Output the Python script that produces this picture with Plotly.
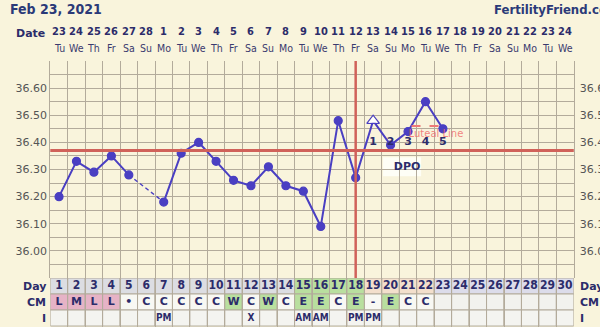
import plotly.graph_objects as go

# ---------------- data ----------------
days = list(range(1, 31))
dates = [23, 24, 25, 26, 27, 28] + list(range(1, 25))
weekdays = ["Tu", "We", "Th", "Fr", "Sa", "Su", "Mo"] * 5
weekdays = weekdays[:30]
temps = [36.20, 36.33, 36.29, 36.35, 36.28, None, 36.18, 36.36, 36.40, 36.33,
         36.26, 36.24, 36.31, 36.24, 36.22, 36.09, 36.48, 36.27, 36.48, 36.39,
         36.44, 36.55, 36.45]
marker_kind = ["o"] * 18 + ["open"] + ["o"] * 4
cm_values = ["L", "M", "L", "L", "•", "C", "C", "C", "C", "C", "W", "C", "W", "C",
             "E", "E", "C", "E", "-", "E", "C", "C"]
intercourse = {7: "PM", 12: "X", 15: "AM", 16: "AM", 18: "PM", 19: "PM"}
coverline = 36.37
ovulation_day = 18
dpo_days = [19, 20, 21, 22, 23]
dpo_labels = ["1", "2", "3", "4", "5"]
luteal_level = 36.46
luteal_span = [21.2, 22.8]
ytick_vals = [36.0, 36.1, 36.2, 36.3, 36.4, 36.5, 36.6]

# ---------------- styles ----------------
W, H = 600, 327
BG = "#f9f4dc"
GRID = "#b3ab9b"
NAVY = "#2c2c6a"
LINE = "#4a3fc2"
RED = "#d0625a"
FONT = "DejaVu Sans"
NFONT = "DejaVu Sans Condensed, Noto Sans, DejaVu Sans"

x0px, x1px = 50.3, 573.8
top_px, bot_px = 61, 278

fig = go.Figure()

fig.add_trace(go.Scatter(
    x=days[:len(temps)], y=temps, mode="lines", connectgaps=False,
    line=dict(color=LINE, width=2), hoverinfo="skip", showlegend=False))
gap_x, gap_y = [], []
for i, t in enumerate(temps):
    if t is None:
        j0, j1 = i - 1, i + 1
        gap_x += [days[j0], days[j1], None]
        gap_y += [temps[j0], temps[j1], None]
fig.add_trace(go.Scatter(x=gap_x, y=gap_y, mode="lines",
                         line=dict(color=LINE, width=1.4, dash="4px,3px"),
                         showlegend=False, hoverinfo="skip"))
mx = [d for d, t in zip(days, temps) if t is not None]
my = [t for t in temps if t is not None]
mk = [k for k, t in zip(marker_kind, temps) if t is not None]
fig.add_trace(go.Scatter(
    x=mx, y=my, mode="markers",
    marker=dict(symbol=["triangle-up-open" if k == "open" else "circle" for k in mk],
                size=[11 if k == "open" else 8 for k in mk],
                color=LINE, opacity=1, line=dict(color=LINE, width=1.2)),
    showlegend=False, hoverinfo="skip"))
fig.add_trace(go.Scatter(
    x=[d for d, k in zip(mx, mk) if k == "open"],
    y=[t for t, k in zip(my, mk) if k == "open"], mode="markers",
    marker=dict(symbol="triangle-up", size=8, color="white"),
    showlegend=False, hoverinfo="skip"))

fig.add_trace(go.Scatter(x=luteal_span, y=[luteal_level, luteal_level], mode="lines",
                         line=dict(color="#ee7a78", width=2, dash="dash"),
                         showlegend=False, hoverinfo="skip"))
fig.add_trace(go.Scatter(x=[22.6], y=[36.43], mode="text", text=["Luteal Line"],
                         textfont=dict(family=FONT, size=10, color="rgba(240,110,110,0.85)"),
                         showlegend=False, hoverinfo="skip"))
fig.add_trace(go.Scatter(x=dpo_days, y=[36.40] * len(dpo_days), mode="text",
                         text=[f"<b>{v}</b>" for v in dpo_labels],
                         textfont=dict(family=FONT, size=11, color=NAVY),
                         showlegend=False, hoverinfo="skip"))
fig.add_trace(go.Scatter(x=[20.95], y=[36.31], mode="text", text=["<b>DPO</b>"],
                         textfont=dict(family=FONT, size=11, color=NAVY),
                         showlegend=False, hoverinfo="skip"))

shapes = []
shapes.append(dict(type="rect", xref="x", yref="y", x0=19.57, x1=21.75, y0=36.275, y1=36.345,
                   fillcolor="rgba(255,255,250,0.85)", line=dict(width=0), layer="below"))
shapes.append(dict(type="line", xref="paper", yref="y", x0=x0px / W, x1=x1px / W,
                   y0=coverline, y1=coverline, line=dict(color=RED, width=3)))
shapes.append(dict(type="line", xref="x", yref="y", x0=ovulation_day, x1=ovulation_day,
                   y0=35.9, y1=36.7, line=dict(color=RED, width=2.5)))

# ---------------- table ----------------
day_colors = []
for d in days:
    if 15 <= d <= 18:
        day_colors.append("#b9df9f")
    elif 19 <= d <= 22:
        day_colors.append("#f3dfcc")
    elif d >= 23:
        day_colors.append("#dcdcea")
    else:
        day_colors.append("#dcdde2")
cm_colors = []
for i, d in enumerate(days):
    v = cm_values[i] if i < len(cm_values) else ""
    if v in ("L", "M"):
        cm_colors.append("#e6b3c6")
    elif v in ("W", "E"):
        cm_colors.append("#b9df9f")
    elif v:
        cm_colors.append("#f8f8f3")
    else:
        cm_colors.append("#f2f2ee")

for i, d in enumerate(days):
    for row, col in enumerate([day_colors[i], cm_colors[i], "#f4f4f0"]):
        shapes.append(dict(type="rect", xref="x", yref="y2", x0=d - 0.5, x1=d + 0.5,
                           y0=row, y1=row + 1, fillcolor=col,
                           line=dict(color=GRID, width=1), layer="below"))

fig.add_trace(go.Scatter(x=days, y=[0.5] * 30, yaxis="y2", mode="text",
                         text=[f"<b>{d}</b>" for d in days],
                         textfont=dict(family=NFONT, size=12, color=NAVY),
                         showlegend=False, hoverinfo="skip"))
fig.add_trace(go.Scatter(x=days[:len(cm_values)], y=[1.5] * len(cm_values), yaxis="y2",
                         mode="text", text=[f"<b>{v}</b>" for v in cm_values],
                         textfont=dict(family=FONT, size=11, color=NAVY),
                         showlegend=False, hoverinfo="skip"))
fig.add_trace(go.Scatter(x=list(intercourse.keys()), y=[2.5] * len(intercourse), yaxis="y2",
                         mode="text", text=[f"<b>{v}</b>" for v in intercourse.values()],
                         textfont=dict(family=NFONT, size=10, color=NAVY),
                         showlegend=False, hoverinfo="skip"))

annotations = []
for lbl, r in zip(["Day", "CM", "I"], [0.5, 1.5, 2.5]):
    annotations.append(dict(text=f"<b>{lbl}</b>", xref="paper", yref="y2", x=48 / W, y=r,
                            xanchor="right", showarrow=False,
                            font=dict(family=FONT, size=11, color=NAVY)))
    annotations.append(dict(text=f"<b>{lbl}</b>", xref="paper", yref="y2", x=578 / W, y=r,
                            xanchor="left", showarrow=False,
                            font=dict(family=FONT, size=11, color=NAVY)))

# ---------------- header ----------------
annotations.append(dict(text="<b>Feb 23, 2021</b>", xref="paper", yref="paper",
                        x=8 / W, y=1 - 9 / H, xanchor="left", yanchor="middle",
                        showarrow=False, font=dict(family=NFONT, size=14, color="#2b3a78")))
annotations.append(dict(text="<b>FertilityFriend.com</b>", xref="paper", yref="paper",
                        x=492 / W, y=1 - 9 / H, xanchor="left", yanchor="middle",
                        showarrow=False, font=dict(family=NFONT, size=13, color="#2b3a78")))
annotations.append(dict(text="<b>Date</b>", xref="paper", yref="paper",
                        x=47 / W, y=1 - 34 / H, xanchor="right", yanchor="middle",
                        showarrow=False, font=dict(family=FONT, size=11, color=NAVY)))
for d, dt, wd in zip(days, dates, weekdays):
    annotations.append(dict(text=f"<b>{dt}</b>", xref="x", yref="paper", x=d, y=1 - 31 / H,
                            yanchor="middle", showarrow=False,
                            font=dict(family=NFONT, size=11, color=NAVY)))
    annotations.append(dict(text=wd, xref="x", yref="paper", x=d, y=1 - 48 / H,
                            yanchor="middle", showarrow=False,
                            font=dict(family=NFONT, size=10.5, color="#3a3a6e")))

grid_dom = [(H - bot_px) / H, (H - top_px) / H]
fig.update_layout(
    width=W, height=H, margin=dict(l=0, r=0, t=0, b=0, autoexpand=False),
    paper_bgcolor=BG, plot_bgcolor=BG,
    shapes=shapes, annotations=annotations,
    xaxis=dict(domain=[x0px / W, x1px / W], range=[0.5, 30.5], automargin=False,
               tickvals=[d + 0.5 for d in range(0, 31)], showticklabels=False, ticks="",
               showgrid=True, gridcolor=GRID, gridwidth=1, zeroline=False),
    yaxis=dict(domain=grid_dom, range=[35.9, 36.7], tickvals=ytick_vals, automargin=False,
               ticktext=[f"{v:.2f}" for v in ytick_vals], ticks="",
               showgrid=True, gridcolor=GRID, zeroline=False,
               minor=dict(tick0=35.9, dtick=0.05, showgrid=True, gridcolor=GRID),
               tickfont=dict(family=FONT, size=11, color="#555555"),
               showline=True, linecolor=GRID, mirror=True),
    yaxis3=dict(overlaying="y", side="right", anchor="x", range=[35.9, 36.7], automargin=False,
                tickvals=ytick_vals, ticktext=[f"{v:.2f}" for v in ytick_vals],
                ticks="", showgrid=False, zeroline=False, ticklabelstandoff=5,
                tickfont=dict(family=FONT, size=11, color="#555555")),
    yaxis2=dict(domain=[0, (H - bot_px) / H], range=[3.06, 0], anchor="x", automargin=False,
                showticklabels=False, showgrid=False, zeroline=False, ticks=""),
)
fig.add_trace(go.Scatter(x=[None], y=[None], yaxis="y3", showlegend=False))

fig.write_html("out.html")
